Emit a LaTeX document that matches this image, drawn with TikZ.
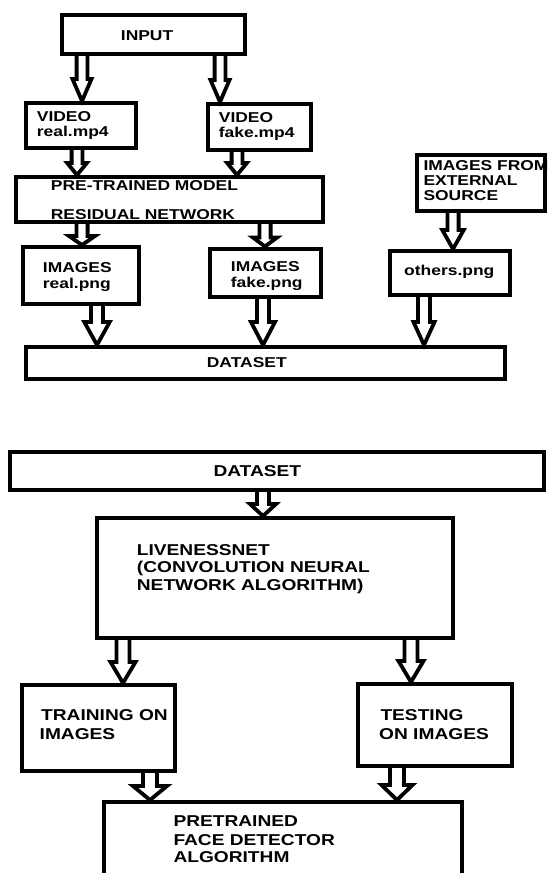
\documentclass[tikz,border=0pt]{standalone}
\usepackage{fontspec}
\setmainfont{Liberation Sans}[FakeStretch=1.22]
\usetikzlibrary{calc}
\tikzset{
  bx/.style={draw, line width=4.2pt, inner sep=0pt, rectangle, fill=white},
  tt/.style={anchor=base west, inner sep=0pt, font=\bfseries\fontsize{14.3}{17}\selectfont},
  tb/.style={anchor=base west, inner sep=0pt, font=\bfseries\fontsize{15.7}{19}\selectfont},
  asw/.store in=\arsw, ahw/.store in=\arhw, ahl/.store in=\arhl,
  asw=5.5, ahw=11, ahl=12,
  ah/.style args={#1/#2/#3}{asw=#1, ahw=#2, ahl=#3},
  harrow/.style={draw, line width=3.8pt, line join=miter, miter limit=20, to path={
    let \p1=(\tikztostart), \p2=(\tikztotarget) in
    (\x1-\arsw,\y1) -- (\x1-\arsw,\y2+\arhl) -- (\x1-\arhw,\y2+\arhl) -- (\x2,\y2)
    -- (\x1+\arhw,\y2+\arhl) -- (\x1+\arsw,\y2+\arhl) -- (\x1+\arsw,\y1)}},
}
\begin{document}
\begin{tikzpicture}[x=1pt, y=-1pt]
\path[use as bounding box] (0,0) rectangle (547,873);
\clip (0,0) rectangle (547,873);
\fill[white] (0,0) rectangle (547,873);

% ---------- upper diagram ----------
\node[bx, minimum width=182.8pt, minimum height=38.8pt] (in) at (153.5,34.5) {};
\node[tt] (tin) at (120.7,40) {INPUT};

\node[bx, minimum width=109.8pt, minimum height=44.8pt] (vr) at (81,125.5) {};
\node[tt] (tvr1) at (36.7,121.7) {VIDEO};
\node[tt] (tvr2) at (36.7,136.7) {real.mp4};

\node[bx, minimum width=102.8pt, minimum height=45.8pt] (vf) at (259.5,127) {};
\node[tt] (tvf1) at (218.7,122) {VIDEO};
\node[tt] (tvf2) at (218.7,137) {fake.mp4};

\node[bx, minimum width=306.8pt, minimum height=44.8pt] (pt) at (169.5,199.5) {};
\node[tt] (tpt1) at (50.7,190.7) {PRE-TRAINED MODEL};
\node[tt] (tpt2) at (50.7,219.3) {RESIDUAL NETWORK};

\node[bx, minimum width=127.8pt, minimum height=55.8pt] (ext) at (481,183) {};
\node[tt] (text1) at (423.3,170) {IMAGES FROM};
\node[tt] (text2) at (423.3,185.5) {EXTERNAL};
\node[tt] (text3) at (423.3,200.7) {SOURCE};

\node[bx, minimum width=115.8pt, minimum height=56.8pt] (ir) at (81,275.5) {};
\node[tt] (tir1) at (42.7,272.7) {IMAGES};
\node[tt] (tir2) at (42.7,288.3) {real.png};

\node[bx, minimum width=110.8pt, minimum height=48.3pt] (if) at (265.5,272.75) {};
\node[tt] (tif1) at (230.7,271.5) {IMAGES};
\node[tt] (tif2) at (230.7,287) {fake.png};

\node[bx, minimum width=119.8pt, minimum height=43.8pt] (ot) at (450,273) {};
\node[tt] (tot) at (404,275) {others.png};

\node[bx, minimum width=478.8pt, minimum height=31.8pt] (ds1) at (265.5,363) {};
\node[tt] (tds1) at (206.7,367.3) {DATASET};

\draw[harrow, ah=5.4/9.5/22] (in.south -| 82,0) to (vr.north -| 82,0);
\draw[harrow, ah=5.4/9.5/22] (in.south -| 220,0) to (vf.north -| 220,0);
\draw[harrow, ah=5.4/9.8/12] (vr.south -| 77,0) to (pt.north -| 77,0);
\draw[harrow, ah=5.4/9.8/12] (vf.south -| 237,0) to (pt.north -| 237,0);
\draw[harrow, ah=5.6/13/9] (pt.south -| 82,0) to (ir.north -| 82,0);
\draw[harrow, ah=5.6/12/9] (pt.south -| 265,0) to (if.north -| 265,0);
\draw[harrow, ah=5.6/10.7/19] (ext.south -| 453,0) to (ot.north -| 453,0);
\draw[harrow, ah=6/12.7/23] (ir.south -| 97,0) to (ds1.north -| 97,0);
\draw[harrow, ah=6/12/23] (if.south -| 263,0) to (ds1.north -| 263,0);
\draw[harrow, ah=6/10.5/23] (ot.south -| 424,0) to (ds1.north -| 424,0);

% ---------- lower diagram ----------
\node[bx, minimum width=533.8pt, minimum height=37.8pt] (ds2) at (277,471) {};
\node[tb] (tds2) at (213.3,476) {DATASET};

\node[bx, minimum width=355.8pt, minimum height=119.8pt] (lv) at (275,578) {};
\node[tb] (tlv1) at (136.7,555) {LIVENESSNET};
\node[tb] (tlv2) at (136.7,572.7) {(CONVOLUTION NEURAL};
\node[tb] (tlv3) at (136.7,590) {NETWORK ALGORITHM)};

\node[bx, minimum width=152.8pt, minimum height=85.8pt] (tr) at (98.5,728) {};
\node[tb] (ttr1) at (41,720.7) {TRAINING ON};
\node[tb] (ttr2) at (39.5,739.3) {IMAGES};

\node[bx, minimum width=153.8pt, minimum height=81.8pt] (te) at (435,725) {};
\node[tb] (tte1) at (380.3,720.7) {TESTING};
\node[tb] (tte2) at (379,739.3) {ON IMAGES};

\node[bx, minimum width=357.8pt, minimum height=95.8pt] (pf) at (283,850) {};
\node[tb] (tpf1) at (173.3,826.7) {PRETRAINED};
\node[tb] (tpf2) at (173.3,845) {FACE DETECTOR};
\node[tb] (tpf3) at (173.3,862.7) {ALGORITHM};

\draw[harrow, ah=6/13/12] (ds2.south -| 263,0) to (lv.north -| 263,0);
\draw[harrow, ah=6.5/12.5/21] (lv.south -| 123,0) to (tr.north -| 123,0);
\draw[harrow, ah=6.5/12.5/21] (lv.south -| 411,0) to (te.north -| 411,0);
\draw[harrow, ah=7/17/14] (tr.south -| 150,0) to (pf.north -| 150,0);
\draw[harrow, ah=7/15.5/15] (te.south -| 397,0) to (pf.north -| 397,0);
\end{tikzpicture}
\end{document}
